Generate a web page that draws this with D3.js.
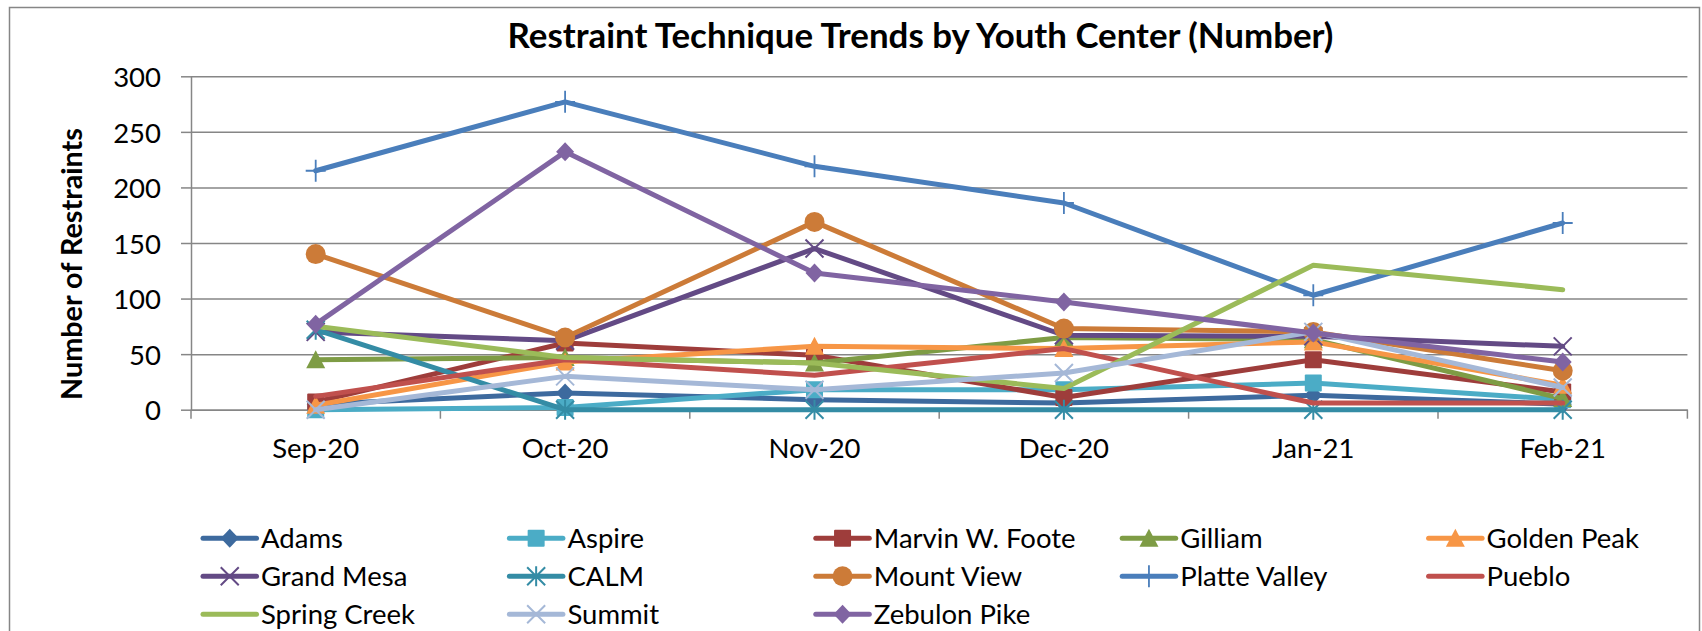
<!DOCTYPE html>
<html>
<head>
<meta charset="utf-8">
<script src="https://cdn.jsdelivr.net/npm/d3@7"></script>
<style>
  body { margin: 0; background: #fff; }
  svg { display: block; font-family: Lato, "Open Sans", sans-serif; }
  .axis path, .axis line { stroke: #868686; stroke-width: 1.5; }
  .grid line { stroke: #868686; stroke-width: 1.5; }
  .grid path { display: none; }
</style>
</head>
<body>
<div class="viz"></div>
<script>
// canvas
var w = 1702;
var h = 631;

// data
var months = ["Sep-20", "Oct-20", "Nov-20", "Dec-20", "Jan-21", "Feb-21"];
var yTicks = [0, 50, 100, 150, 200, 250, 300];

var centers = ["Adams", "Aspire", "Marvin W. Foote", "Gilliam", "Golden Peak",
               "Grand Mesa", "CALM", "Mount View", "Platte Valley", "Pueblo",
               "Spring Creek", "Summit", "Zebulon Pike"];

var adams        = [5, 15, 9, 6, 13, 5];
var aspire       = [0, 2, 18, 18, 24, 9];
var marvinFoote  = [7, 60, 49, 11, 45, 16];
var gilliam      = [45, 47, 42, 65, 63, 10];
var goldenPeak   = [4, 43, 57, 55, 61, 22];
var grandMesa    = [70, 62, 145, 67, 66, 57];
var calm         = [72, 0, 0, 0, 0, 0];
var mountView    = [140, 65, 169, 73, 70, 35];
var platteValley = [215, 277, 219, 186, 103, 168];
var pueblo       = [12, 45, 31, 55, 6, 6];
var springCreek  = [75, 47, 42, 19, 130, 108];
var summit       = [0, 30, 18, 33, 70, 20];
var zebulonPike  = [77, 232, 123, 97, 69, 43];

var values = [adams, aspire, marvinFoote, gilliam, goldenPeak, grandMesa, calm,
              mountView, platteValley, pueblo, springCreek, summit, zebulonPike];

// styling per series
var colors = ["#3d6a9e", "#4bacc6", "#9e3d3b", "#7e9c45", "#f79646",
              "#634a85", "#348ca5", "#cc7b38", "#4a7ebb", "#c0504d",
              "#9bbb59", "#a5b8d7", "#8064a2"];
var markers = ["diamond", "square", "square", "triangle", "triangle",
               "x", "star", "circle", "plus", "none",
               "none", "x", "diamond"];

var series = centers.map(function(name, i) {
  return {name: name, values: values[i], color: colors[i], marker: markers[i]};
});

var svg = d3.select(".viz").append("svg")
  .attr("width", w)
  .attr("height", h);

// chart border
svg.append("rect")
  .attr("x", 9.5).attr("y", 7.5)
  .attr("width", 1690).attr("height", 700)
  .attr("fill", "none")
  .attr("stroke", "#868686")
  .attr("stroke-width", 1.5);

// plot area
var pLeft = 191, pRight = 1687.4, pTop = 76.3, pBottom = 409.7;

var x = d3.scaleBand().domain(months).range([pLeft, pRight]);
var y = d3.scaleLinear().domain([0, 300]).range([pBottom, pTop]);
var xc = function(m) { return x(m) + x.bandwidth() / 2; };

// gridlines
svg.append("g")
  .attr("class", "grid")
  .attr("transform", "translate(" + pLeft + ",0)")
  .call(d3.axisLeft(y).tickValues(yTicks).tickSize(-(pRight - pLeft)).tickFormat(""));

// y axis
var yAxis = svg.append("g")
  .attr("class", "axis")
  .attr("transform", "translate(" + pLeft + ",0)")
  .call(d3.axisLeft(y).tickValues(yTicks).tickSize(10).tickPadding(20).tickSizeOuter(0));
yAxis.selectAll("text")
  .attr("dy", "0.37em")
  .attr("font-size", "27.5px")
  .attr("font-family", "Lato")
  .attr("fill", "#000");

// x axis: labels at centers, ticks at band edges
var xAxis = svg.append("g")
  .attr("class", "axis")
  .attr("transform", "translate(0," + pBottom + ")")
  .call(d3.axisBottom(x).tickSize(0).tickSizeOuter(0));
xAxis.selectAll("text")
  .attr("y", 48)
  .attr("dy", 0)
  .attr("font-size", "27.5px")
  .attr("font-family", "Lato")
  .attr("fill", "#000");
xAxis.selectAll(".edge")
  .data(months.map(function(m) { return x(m); }).concat([pRight]))
  .enter().append("line")
  .attr("x1", function(d) { return d; })
  .attr("x2", function(d) { return d; })
  .attr("y1", 0).attr("y2", 9)
  .attr("stroke", "#868686").attr("stroke-width", 1.5);

// title
var title = svg.append("text")
  .attr("x", 920.5).attr("y", 48.3)
  .attr("text-anchor", "middle")
  .attr("font-weight", "bold")
  .attr("font-size", "30px")
  .text("Restraint Technique Trends by Youth Center (Number)");
var tl = title.node().getComputedTextLength();
title.attr("font-size", (30 * 826 / tl) + "px");

// y axis title
var yTitle = svg.append("text")
  .attr("transform", "translate(82,264) rotate(-90)")
  .attr("text-anchor", "middle")
  .attr("font-weight", "bold")
  .attr("font-size", "26px")
  .text("Number of Restraints");
var yl = yTitle.node().getComputedTextLength();
yTitle.attr("font-size", (26 * 272 / yl) + "px");

// marker drawing
function drawMarker(g, type, color) {
  if (type === "diamond") {
    g.append("path").attr("d", "M0,-9.5L9,0L0,9.5L-9,0Z").attr("fill", color);
  } else if (type === "square") {
    g.append("rect").attr("x", -8.5).attr("y", -8.5).attr("width", 17).attr("height", 17)
      .attr("rx", 1).attr("fill", color);
  } else if (type === "triangle") {
    g.append("path").attr("d", "M0,-9.5L9.5,8.5L-9.5,8.5Z").attr("fill", color);
  } else if (type === "circle") {
    g.append("circle").attr("r", 10).attr("fill", color);
  } else if (type === "x" || type === "star") {
    var p = "M-9,-9L9,9M-9,9L9,-9";
    if (type === "star") p += "M0,-10L0,10";
    g.append("path").attr("d", p).attr("stroke", color).attr("stroke-width", 2).attr("fill", "none");
  } else if (type === "plus") {
    g.append("path").attr("d", "M0,-11L0,11M-10,0L10,0").attr("stroke", color)
      .attr("stroke-width", 1.8).attr("fill", "none");
  }
}

// lines
var line = d3.line()
  .x(function(d, i) { return xc(months[i]); })
  .y(function(d) { return y(d); });

var plot = svg.append("g");
series.forEach(function(s) {
  var sg = plot.append("g");
  sg.append("path")
    .datum(s.values)
    .attr("d", line)
    .attr("fill", "none")
    .attr("stroke", s.color)
    .attr("stroke-width", 5)
    .attr("stroke-linejoin", "round")
    .attr("stroke-linecap", "round");
  if (s.marker !== "none") {
    s.values.forEach(function(v, i) {
      var mg = sg.append("g").attr("transform", "translate(" + xc(months[i]) + "," + y(v) + ")");
      drawMarker(mg, s.marker, s.color);
    });
  }
});

// legend
var legend = svg.append("g");
var colW = 306.4, rowH = 38, lx0 = 203, ly0 = 538.3;
series.forEach(function(s, i) {
  var col = i % 5, row = Math.floor(i / 5);
  var lg = legend.append("g")
    .attr("transform", "translate(" + (lx0 + col * colW) + "," + (ly0 + row * rowH) + ")");
  lg.append("line")
    .attr("x1", 0).attr("x2", 53.5)
    .attr("y1", 0).attr("y2", 0)
    .attr("stroke", s.color)
    .attr("stroke-width", 5)
    .attr("stroke-linecap", "round");
  if (s.marker !== "none") {
    drawMarker(lg.append("g").attr("transform", "translate(26.75,0)"), s.marker, s.color);
  }
  lg.append("text")
    .attr("x", 58).attr("y", 9.3)
    .attr("font-size", "27.5px")
    .text(s.name);
});
</script>
</body>
</html>
